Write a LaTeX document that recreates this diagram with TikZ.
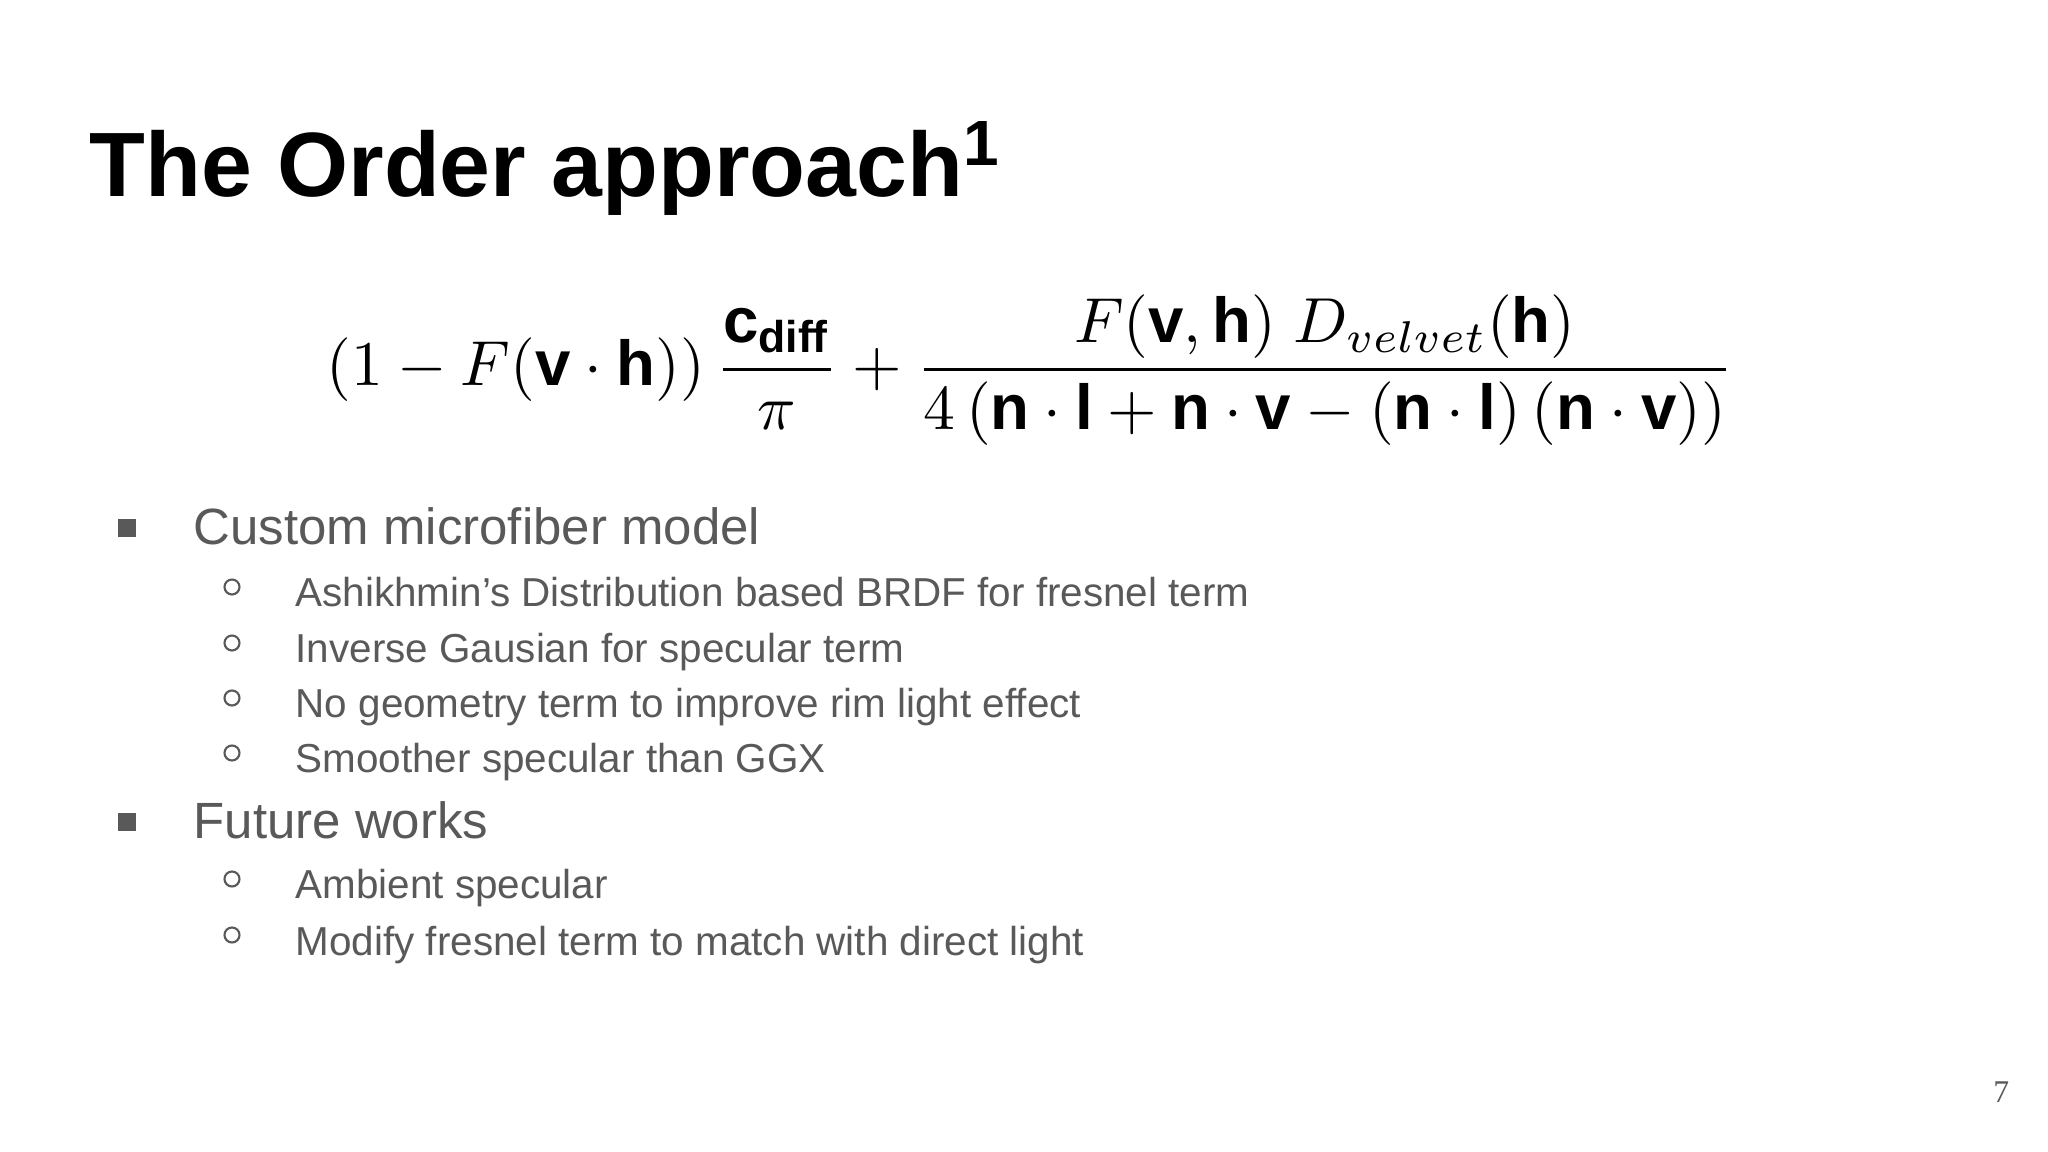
\documentclass[tikz,border=0pt]{standalone}
\usepackage{amsmath}
\usepackage{fontspec}
\setmainfont{Liberation Sans}
\newfontfamily\serifpg{Liberation Serif}
\definecolor{txt}{HTML}{595959}
\begin{document}
\begin{tikzpicture}[x=1cm,y=1cm,
  lvla/.style={anchor=base west,inner sep=0pt,text=txt,font=\fontsize{14.5pt}{16pt}\selectfont},
  lvlb/.style={anchor=base west,inner sep=0pt,text=txt,font=\fontsize{11.5pt}{13pt}\selectfont},
  sq/.style={fill=txt,minimum size=0.18cm,inner sep=0pt,draw=none},
  circ/.style={circle,draw=txt,line width=0.6pt,minimum size=0.15cm,inner sep=0pt}]
\useasboundingbox (0,0) rectangle (20.48,11.52);
\fill[white] (0,0) rectangle (20.48,11.52);
\node[anchor=base west,inner sep=0pt,font=\fontsize{26pt}{30pt}\selectfont\bfseries] (title) at (0.89,9.55) {The Order approach\textsuperscript{1}};
\node[inner sep=0pt] (eq) at (10.30,7.82) {\resizebox{14.07cm}{!}{$\displaystyle (1-F(\mathbf{v}\cdot\mathbf{h}))\,\frac{\mathbf{c}_{\mathbf{diff}}}{\pi}+\frac{F(\mathbf{v},\mathbf{h})\ D_{velvet}(\mathbf{h})}{4\left(\mathbf{n}\cdot\mathbf{l}+\mathbf{n}\cdot\mathbf{v}-(\mathbf{n}\cdot\mathbf{l})\,(\mathbf{n}\cdot\mathbf{v})\right)}$}};
\node[sq] (b1) at (1.27,6.24) {};
\node[lvla] (t1) at (1.93,6.07) {Custom microfiber model};
\node[circ] (c1) at (2.32,5.65) {};
\node[lvlb] (s1) at (2.95,5.45) {Ashikhmin’s Distribution based BRDF for fresnel term};
\node[circ] (c2) at (2.32,5.09) {};
\node[lvlb] (s2) at (2.95,4.89) {Inverse Gausian for specular term};
\node[circ] (c3) at (2.32,4.54) {};
\node[lvlb] (s3) at (2.95,4.34) {No geometry term to improve rim light effect};
\node[circ] (c4) at (2.32,3.99) {};
\node[lvlb] (s4) at (2.95,3.79) {Smoother specular than GGX};
\node[sq] (b2) at (1.27,3.30) {};
\node[lvla] (t2) at (1.93,3.13) {Future works};
\node[circ] (c5) at (2.32,2.73) {};
\node[lvlb] (s5) at (2.95,2.53) {Ambient specular};
\node[circ] (c6) at (2.32,2.17) {};
\node[lvlb] (s6) at (2.95,1.96) {Modify fresnel term to match with direct light};
\node[anchor=base east,inner sep=0pt,text=txt,font=\serifpg\fontsize{9pt}{10pt}\selectfont] (pg) at (20.10,0.49) {7};
\end{tikzpicture}
\end{document}
